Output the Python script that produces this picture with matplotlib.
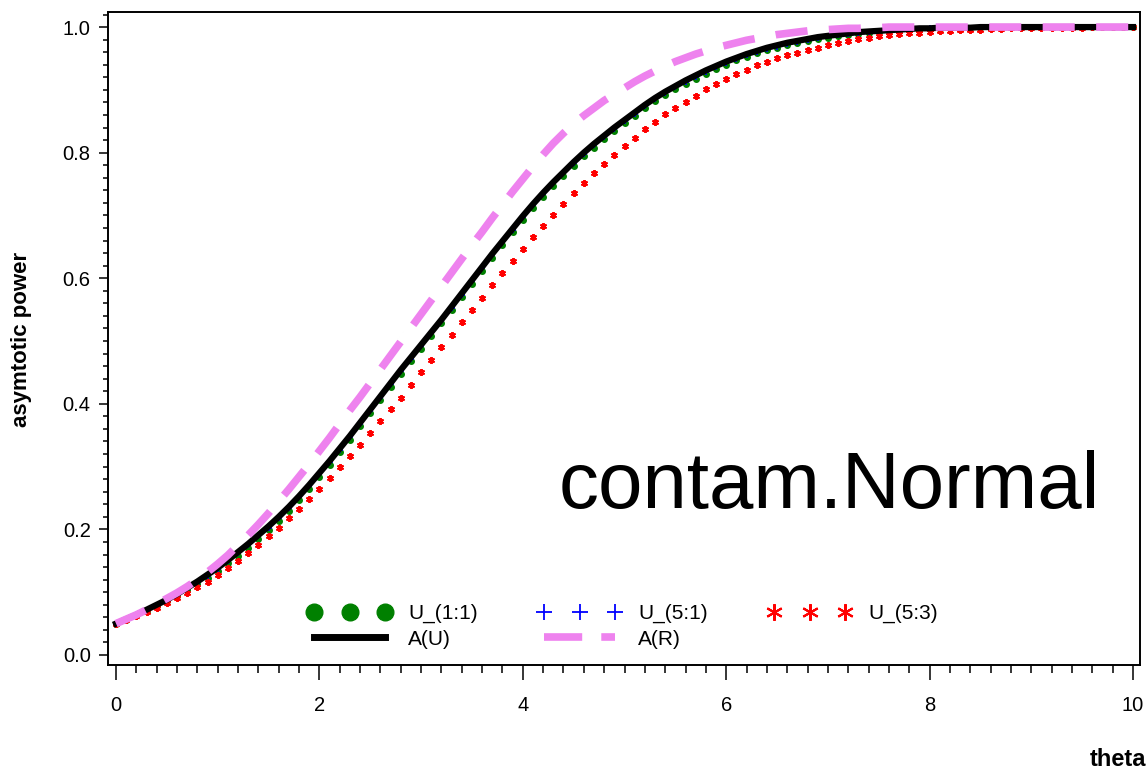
import matplotlib.pyplot as plt
from matplotlib.lines import Line2D
from matplotlib.ticker import MultipleLocator, FormatStrFormatter

plt.rcParams['font.family'] = ['Liberation Sans', 'DejaVu Sans']

# theta grid, step 0.1
theta = [i / 10 for i in range(101)]

# A(U), solid black line
a_u = [0.050, 0.057, 0.064, 0.072, 0.080, 0.088, 0.097, 0.107, 0.117, 0.128,
       0.139, 0.151, 0.164, 0.177, 0.191, 0.205, 0.220, 0.236, 0.253, 0.271,
       0.290, 0.309, 0.329, 0.349, 0.370, 0.391, 0.412, 0.433, 0.454, 0.474,
       0.494, 0.514, 0.534, 0.555, 0.576, 0.597, 0.618, 0.639, 0.659, 0.679,
       0.699, 0.718, 0.736, 0.753, 0.769, 0.785, 0.800, 0.814, 0.827, 0.840,
       0.852, 0.864, 0.876, 0.887, 0.897, 0.906, 0.915, 0.923, 0.931, 0.938,
       0.945, 0.951, 0.957, 0.962, 0.967, 0.971, 0.975, 0.978, 0.981, 0.984,
       0.986, 0.988, 0.990, 0.992, 0.993, 0.994, 0.995, 0.996, 0.997, 0.998,
       0.998, 0.999, 0.999, 0.999, 0.999, 1.000, 1.000, 1.000, 1.000, 1.000,
       1.000, 1.000, 1.000, 1.000, 1.000, 1.000, 1.000, 1.000, 1.000, 1.000,
       1.000]

# U_(1:1), green dots
u_11 = [0.050, 0.056, 0.063, 0.070, 0.078, 0.086, 0.094, 0.103, 0.113, 0.123,
        0.134, 0.146, 0.158, 0.171, 0.185, 0.199, 0.214, 0.230, 0.247, 0.265,
        0.284, 0.303, 0.323, 0.343, 0.364, 0.385, 0.406, 0.427, 0.448, 0.468,
        0.488, 0.508, 0.528, 0.549, 0.570, 0.591, 0.612, 0.633, 0.653, 0.673,
        0.693, 0.712, 0.730, 0.747, 0.763, 0.779, 0.794, 0.808, 0.822, 0.835,
        0.847, 0.859, 0.871, 0.882, 0.892, 0.901, 0.910, 0.918, 0.926, 0.933,
        0.940, 0.947, 0.953, 0.958, 0.963, 0.967, 0.971, 0.975, 0.978, 0.981,
        0.983, 0.985, 0.987, 0.989, 0.990, 0.992, 0.993, 0.994, 0.995, 0.996,
        0.997, 0.997, 0.998, 0.998, 0.999, 0.999, 0.999, 0.999, 1.000, 1.000,
        1.000, 1.000, 1.000, 1.000, 1.000, 1.000, 1.000, 1.000, 1.000, 1.000,
        1.000]

# U_(5:1), blue plus
u_51 = [0.050, 0.057, 0.063, 0.071, 0.079, 0.087, 0.096, 0.105, 0.115, 0.126,
        0.137, 0.149, 0.162, 0.175, 0.189, 0.203, 0.218, 0.234, 0.251, 0.269,
        0.288, 0.307, 0.327, 0.347, 0.368, 0.389, 0.410, 0.431, 0.452, 0.472,
        0.492, 0.512, 0.532, 0.553, 0.574, 0.595, 0.616, 0.637, 0.657, 0.677,
        0.697, 0.716, 0.734, 0.751, 0.767, 0.783, 0.798, 0.812, 0.825, 0.838,
        0.850, 0.862, 0.874, 0.885, 0.895, 0.904, 0.913, 0.921, 0.929, 0.936,
        0.943, 0.949, 0.955, 0.960, 0.965, 0.969, 0.973, 0.977, 0.980, 0.983,
        0.985, 0.987, 0.989, 0.991, 0.992, 0.993, 0.994, 0.995, 0.996, 0.997,
        0.998, 0.998, 0.999, 0.999, 0.999, 0.999, 1.000, 1.000, 1.000, 1.000,
        1.000, 1.000, 1.000, 1.000, 1.000, 1.000, 1.000, 1.000, 1.000, 1.000,
        1.000]

# U_(5:3), red stars
u_53 = [0.050, 0.056, 0.062, 0.068, 0.075, 0.082, 0.090, 0.099, 0.108, 0.117,
        0.127, 0.138, 0.150, 0.162, 0.175, 0.189, 0.203, 0.218, 0.233, 0.249,
        0.265, 0.282, 0.299, 0.317, 0.335, 0.353, 0.372, 0.391, 0.410, 0.430,
        0.450, 0.470, 0.490, 0.510, 0.530, 0.550, 0.569, 0.589, 0.608, 0.627,
        0.646, 0.665, 0.683, 0.701, 0.718, 0.735, 0.751, 0.767, 0.782, 0.796,
        0.810, 0.824, 0.837, 0.849, 0.861, 0.871, 0.881, 0.891, 0.901, 0.909,
        0.917, 0.925, 0.932, 0.939, 0.945, 0.950, 0.955, 0.959, 0.963, 0.967,
        0.971, 0.975, 0.978, 0.981, 0.983, 0.985, 0.987, 0.989, 0.990, 0.991,
        0.992, 0.993, 0.994, 0.995, 0.996, 0.996, 0.997, 0.997, 0.998, 0.998,
        0.999, 0.999, 0.999, 0.999, 0.999, 0.999, 1.000, 1.000, 1.000, 1.000,
        1.000]

# A(R), violet dashed line
a_r = [0.050, 0.057, 0.064, 0.072, 0.081, 0.090, 0.099, 0.109, 0.120, 0.132,
       0.145, 0.159, 0.175, 0.191, 0.208, 0.226, 0.245, 0.264, 0.284, 0.304,
       0.325, 0.346, 0.368, 0.390, 0.411, 0.433, 0.455, 0.477, 0.499, 0.521,
       0.543, 0.565, 0.587, 0.609, 0.631, 0.653, 0.674, 0.696, 0.717, 0.738,
       0.758, 0.778, 0.797, 0.815, 0.831, 0.846, 0.859, 0.871, 0.883, 0.893,
       0.903, 0.913, 0.922, 0.930, 0.938, 0.945, 0.951, 0.957, 0.962, 0.967,
       0.971, 0.975, 0.979, 0.982, 0.985, 0.988, 0.990, 0.992, 0.994, 0.995,
       0.996, 0.997, 0.998, 0.998, 0.999, 0.999, 1.000, 1.000, 1.000, 1.000,
       1.000, 1.000, 1.000, 1.000, 1.000, 1.000, 1.000, 1.000, 1.000, 1.000,
       1.000, 1.000, 1.000, 1.000, 1.000, 1.000, 1.000, 1.000, 1.000, 1.000,
       1.000]

GREEN, BLUE, RED, VIOLET = '#008000', '#0000ff', '#ff0000', '#ee82ee'
STAR = (6, 2, 0)
DASH = (4.2, 2.8)

fig = plt.figure(figsize=(11.48, 7.74), dpi=100)
ax = fig.add_axes([0.0941, 0.1408, 0.8989, 0.8437])

ax.plot(theta, u_11, ls='none', marker='o', ms=4, color=GREEN, zorder=2)
ax.plot(theta, u_51, ls='none', marker='+', ms=5, mew=1.2, color=BLUE, zorder=2)
ax.plot(theta, u_53, ls='none', marker=STAR, ms=5, mew=1.4, color=RED, zorder=3)
ax.plot(theta, a_u, color='black', lw=4.5, zorder=4)
ax.plot(theta, a_r, color=VIOLET, lw=5.5, dashes=DASH, dash_capstyle='butt', zorder=5)

ax.set_xlim(-0.079, 10.069)
ax.set_ylim(-0.016, 1.024)

ax.xaxis.set_major_locator(MultipleLocator(2))
ax.xaxis.set_minor_locator(MultipleLocator(0.2))
ax.yaxis.set_major_locator(MultipleLocator(0.2))
ax.yaxis.set_minor_locator(MultipleLocator(0.02))
ax.yaxis.set_major_formatter(FormatStrFormatter('%.1f'))
ax.xaxis.set_major_formatter(FormatStrFormatter('%d'))

ax.tick_params(axis='x', which='major', length=10.5, width=1.1, pad=12, labelsize=14.5)
ax.tick_params(axis='x', which='minor', length=6, width=1.1)
ax.tick_params(axis='y', which='major', length=6.5, width=1.1, pad=6, labelsize=14.5)
ax.tick_params(axis='y', which='minor', length=3.6, width=1.1)
for s in ax.spines.values():
    s.set_linewidth(1.4)

# legend with bigger symbols than in the plot
handles = [
    Line2D([], [], ls='none', marker='o', ms=12, color=GREEN),
    Line2D([], [], color='black', lw=5),
    Line2D([], [], ls='none', marker='+', ms=11, mew=1.3, color=BLUE),
    Line2D([], [], color=VIOLET, lw=5.5, dashes=(5, 2.5), dash_capstyle='butt'),
    Line2D([], [], ls='none', marker=STAR, ms=12, mew=1.5, color=RED),
]
labels = ['U_(1:1)', 'A(U)', 'U_(5:1)', 'A(R)', 'U_(5:3)']
ax.legend(handles, labels, ncol=3, numpoints=3, loc='lower center',
          bbox_to_anchor=(0.499, 0.025), frameon=False, fontsize=15,
          handlelength=4.0, handletextpad=0.8, columnspacing=2.9,
          labelspacing=0.3, borderpad=0, borderaxespad=0)

ax.text(9.68, 0.234, 'contam.Normal', fontsize=57.5, ha='right', va='baseline')

fig.text(22 / 1148, 1 - 339 / 774, 'asymtotic power', rotation=90,
         fontsize=16, fontweight='bold', ha='center', va='center')
fig.text(1146 / 1148, 1 - 760 / 774, 'theta', fontsize=17,
         fontweight='bold', ha='right', va='center')

fig.savefig('out.png', dpi=100)
